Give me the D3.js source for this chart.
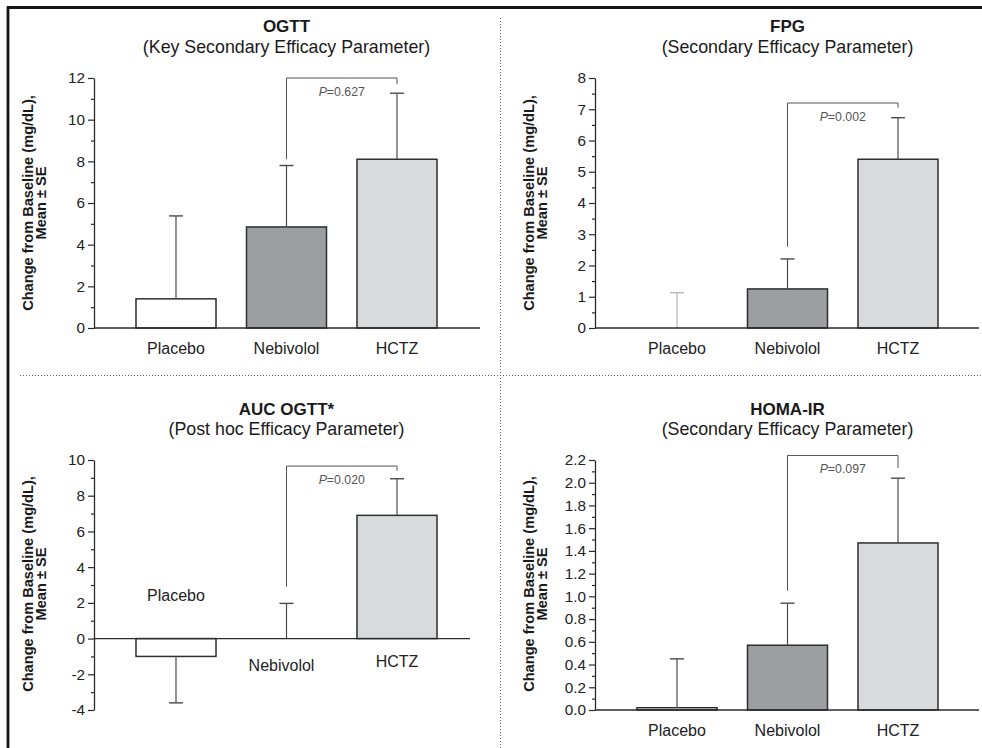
<!DOCTYPE html>
<html>
<head>
<meta charset="utf-8">
<script src="https://cdn.jsdelivr.net/npm/d3@7/dist/d3.min.js"></script>
<style>
  html, body { margin: 0; padding: 0; background: #fff; }
  svg { display: block; font-family: "Liberation Sans", Arial, Helvetica, sans-serif; }
</style>
</head>
<body>
<svg id="chart" width="982" height="748"></svg>
<script>
// ---------------- DATA ----------------
const categories = ["Placebo", "Nebivolol", "HCTZ"];

const panelTitles = ["OGTT", "FPG", "AUC OGTT*", "HOMA-IR"];
const panelSubtitles = [
  "(Key Secondary Efficacy Parameter)",
  "(Secondary Efficacy Parameter)",
  "(Post hoc Efficacy Parameter)",
  "(Secondary Efficacy Parameter)"
];

const ogttMean = [1.4, 4.85, 8.1];
const ogttSE   = [3.98, 2.95, 3.17];

const fpgMean = [0, 1.25, 5.4];
const fpgSE   = [1.13, 0.96, 1.33];

const aucMean = [-1.0, 0, 6.9];
const aucSE   = [2.6, 1.97, 2.05];

const homaMean = [0.02, 0.57, 1.47];
const homaSE   = [0.43, 0.37, 0.57];

const pValues = ["0.627", "0.002", "0.020", "0.097"];
// bracket: [top, left-leg end, right-leg end] in data units
const ogttBracket = [12, 8.1, 11.7];
const fpgBracket  = [7.2, 2.6, 7.05];
const aucBracket  = [9.66, 2.9, 9.4];
const homaBracket = [2.24, 1.05, 2.13];

const ogttTicks = [0, 2, 4, 6, 8, 10, 12];
const fpgTicks  = [0, 1, 2, 3, 4, 5, 6, 7, 8];
const aucTicks  = [-4, -2, 0, 2, 4, 6, 8, 10];
const homaTicks = [0, 0.2, 0.4, 0.6, 0.8, 1.0, 1.2, 1.4, 1.6, 1.8, 2.0, 2.2];

const ogttMinor = [1, 3, 5, 7, 9, 11];
const fpgMinor  = [0.5, 1.5, 2.5, 3.5, 4.5, 5.5, 6.5, 7.5];
const aucMinor  = [-3, -1, 1, 3, 5, 7, 9];
const homaMinor = [0.1, 0.3, 0.5, 0.7, 0.9, 1.1, 1.3, 1.5, 1.7, 1.9, 2.1];

const yLabelLine1 = "Change from Baseline (mg/dL),";
const yLabelLine2 = "Mean \u00b1 SE";

// ---------------- LAYOUT / STYLE ----------------
const barFills = ["#ffffff", "#9d9ea1", "#d9dadc"];
const ink = "#2a2a2a";

const panels = [
  { title: panelTitles[0], sub: panelSubtitles[0], mean: ogttMean, se: ogttSE, p: pValues[0], br: ogttBracket,
    domain: [0, 12], ticks: ogttTicks, minor: ogttMinor, fmt: d => String(d),
    ax: 94, xEnd: 480, yTop: 78, yBot: 328, titleY: 32, subY: 53, ylabY: 203,
    labelY: [354, 354, 354], faint: [false, false, false] },
  { title: panelTitles[1], sub: panelSubtitles[1], mean: fpgMean, se: fpgSE, p: pValues[1], br: fpgBracket,
    domain: [0, 8], ticks: fpgTicks, minor: fpgMinor, fmt: d => String(d),
    ax: 595, xEnd: 979, yTop: 78, yBot: 328, titleY: 32, subY: 53, ylabY: 203,
    labelY: [354, 354, 354], faint: [true, false, false] },
  { title: panelTitles[2], sub: panelSubtitles[2], mean: aucMean, se: aucSE, p: pValues[2], br: aucBracket,
    domain: [-4, 10], ticks: aucTicks, minor: aucMinor, fmt: d => String(d),
    ax: 94, xEnd: 470, yTop: 460, yBot: 710, titleY: 415, subY: 435, ylabY: 584,
    labelY: null, faint: [false, false, false] },
  { title: panelTitles[3], sub: panelSubtitles[3], mean: homaMean, se: homaSE, p: pValues[3], br: homaBracket,
    domain: [0, 2.2], ticks: homaTicks, minor: homaMinor, fmt: d3.format(".1f"),
    ax: 595, xEnd: 979, yTop: 460, yBot: 710, titleY: 415, subY: 435, ylabY: 584,
    labelY: [736, 736, 736], faint: [false, false, false] }
];

const svg = d3.select("#chart");

// frame
svg.append("line").attr("x1", 7).attr("x2", 982).attr("y1", 7.5).attr("y2", 7.5)
  .attr("stroke", "#151515").attr("stroke-width", 2.8);
svg.append("line").attr("x1", 8).attr("x2", 8).attr("y1", 6.5).attr("y2", 748)
  .attr("stroke", "#151515").attr("stroke-width", 2.8);
// dotted dividers
svg.append("line").attr("x1", 500.5).attr("x2", 500.5).attr("y1", 18).attr("y2", 748)
  .attr("stroke", "#666").attr("stroke-width", 1).attr("stroke-dasharray", "1,2");
svg.append("line").attr("x1", 20).attr("x2", 982).attr("y1", 375.5).attr("y2", 375.5)
  .attr("stroke", "#666").attr("stroke-width", 1).attr("stroke-dasharray", "1,2");

panels.forEach((P, pi) => {
  const g = svg.append("g");
  const x = d3.scaleBand().domain(categories)
    .range([P.ax + 26.75, P.ax + 358.25]).paddingInner(0.276).paddingOuter(0.138);
  const y = d3.scaleLinear().domain(P.domain).range([P.yBot, P.yTop]);
  const cx = c => x(c) + x.bandwidth() / 2;
  const midX = cx(categories[1]);

  // titles
  g.append("text").attr("x", midX).attr("y", P.titleY).attr("text-anchor", "middle")
    .attr("font-size", 17).attr("font-weight", "bold").attr("fill", "#1a1a1a").text(P.title);
  g.append("text").attr("x", midX).attr("y", P.subY).attr("text-anchor", "middle")
    .attr("font-size", 17.8).attr("fill", "#1a1a1a").text(P.sub);

  // y-axis label (two lines)
  const yl = g.append("g");
  yl.append("text").attr("transform", `translate(${P.ax - 66},${P.ylabY}) rotate(-90)`)
    .attr("text-anchor", "middle").attr("dy", "0.35em")
    .attr("font-size", 14.6).attr("font-weight", "bold").attr("fill", "#1a1a1a").text(yLabelLine1);
  yl.append("text").attr("transform", `translate(${P.ax - 53},${P.ylabY}) rotate(-90)`)
    .attr("text-anchor", "middle").attr("dy", "0.35em")
    .attr("font-size", 14.6).attr("font-weight", "bold").attr("fill", "#1a1a1a").text(yLabelLine2);

  // bars
  categories.forEach((c, i) => {
    const m = P.mean[i];
    if (m !== 0) {
      g.append("rect")
        .attr("x", x(c)).attr("width", x.bandwidth())
        .attr("y", Math.min(y(m), y(0))).attr("height", Math.abs(y(m) - y(0)))
        .attr("fill", barFills[i]).attr("stroke", "#2e2e2e").attr("stroke-width", 1.5);
    }
  });

  // error bars
  categories.forEach((c, i) => {
    const m = P.mean[i];
    const end = m < 0 ? m - P.se[i] : m + P.se[i];
    const col = P.faint[i] ? "#b8b8b8" : "#4a4a4a";
    g.append("line").attr("x1", cx(c)).attr("x2", cx(c)).attr("y1", y(m)).attr("y2", y(end))
      .attr("stroke", col).attr("stroke-width", 1.2);
    g.append("line").attr("x1", cx(c) - 7).attr("x2", cx(c) + 7).attr("y1", y(end)).attr("y2", y(end))
      .attr("stroke", col).attr("stroke-width", 1.4);
  });

  // bracket
  const bx1 = cx(categories[1]), bx2 = cx(categories[2]);
  g.append("path")
    .attr("d", `M${bx1},${y(P.br[1])}V${y(P.br[0])}H${bx2}V${y(P.br[2])}`)
    .attr("fill", "none").attr("stroke", "#555").attr("stroke-width", 1);
  const pt = g.append("text").attr("x", (bx1 + bx2) / 2).attr("y", y(P.br[0]) + 18)
    .attr("text-anchor", "middle").attr("font-size", 12.3).attr("fill", "#555");
  pt.append("tspan").attr("font-style", "italic").text("P");
  pt.append("tspan").text("=" + P.p);

  // y axis
  const yAxis = d3.axisLeft(y).tickValues(P.ticks).tickFormat(P.fmt).tickSize(6).tickSizeOuter(0).tickPadding(3);
  const ya = g.append("g").attr("transform", `translate(${P.ax},0)`).call(yAxis);
  ya.select(".domain").attr("stroke", ink).attr("stroke-width", 1.3);
  ya.selectAll(".tick line").attr("stroke", ink).attr("stroke-width", 1.2);
  ya.selectAll(".tick text").attr("font-size", 15.3).attr("fill", "#222")
    .attr("font-family", "'Liberation Sans', Arial, sans-serif");
  const yMinor = d3.axisLeft(y).tickValues(P.minor).tickFormat("").tickSize(3).tickSizeOuter(0);
  const ym = g.append("g").attr("transform", `translate(${P.ax},0)`).call(yMinor);
  ym.select(".domain").remove();
  ym.selectAll(".tick line").attr("stroke", ink).attr("stroke-width", 1.2);

  // x axis line at zero
  g.append("line").attr("x1", P.ax).attr("x2", P.xEnd).attr("y1", y(0)).attr("y2", y(0))
    .attr("stroke", ink).attr("stroke-width", 1.3);

  // category labels
  const auc = { Placebo: [cx("Placebo"), 601], Nebivolol: [cx("Nebivolol") - 5, 671], HCTZ: [cx("HCTZ"), 667] };
  categories.forEach((c, i) => {
    const pos = P.labelY ? [cx(c), P.labelY[i]] : auc[c];
    g.append("text").attr("x", pos[0]).attr("y", pos[1]).attr("text-anchor", "middle")
      .attr("font-size", 16).attr("fill", "#222").text(c);
  });
});
</script>
</body>
</html>
